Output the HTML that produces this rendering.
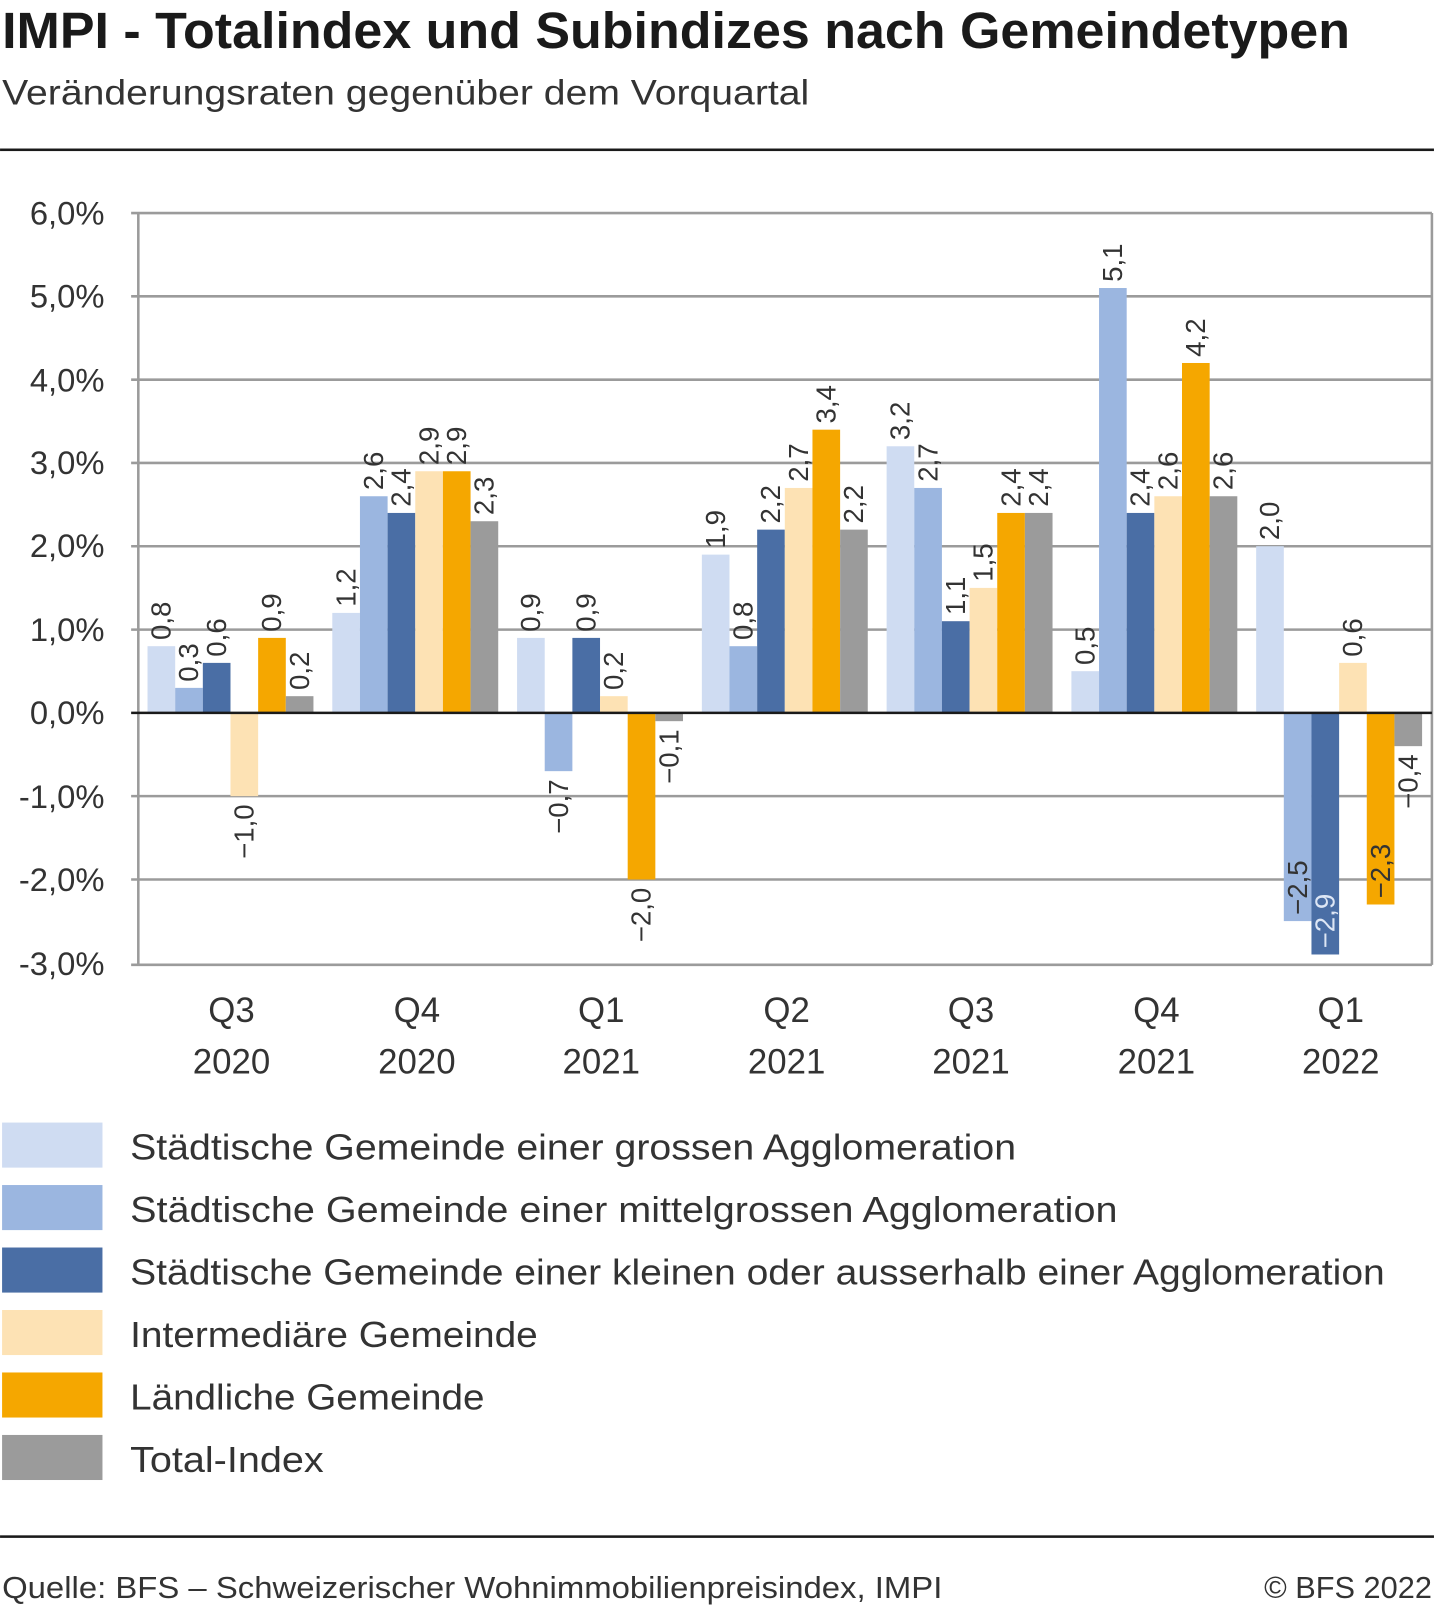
<!DOCTYPE html>
<html><head><meta charset="utf-8"><style>html,body{margin:0;padding:0;background:#fff}svg{display:block}</style></head>
<body>
<svg width="1434" height="1606" viewBox="0 0 1400 1568" xmlns="http://www.w3.org/2000/svg" font-family="Liberation Sans, sans-serif">
<rect width="1400" height="1568" fill="#fff"/>
<text x="2" y="47" font-size="50" font-weight="bold" fill="#1a1a1a" textLength="1316" lengthAdjust="spacingAndGlyphs">IMPI - Totalindex und Subindizes nach Gemeindetypen</text>
<text x="2" y="102" font-size="34" fill="#333" textLength="788" lengthAdjust="spacingAndGlyphs">Veränderungsraten gegenüber dem Vorquartal</text>
<rect x="0" y="145" width="1400" height="2.5" fill="#1a1a1a"/>
<g stroke="#9b9b9b" stroke-width="2.5">
<line x1="128" y1="208" x2="1398" y2="208"/><line x1="128" y1="289.3" x2="1398" y2="289.3"/>
<line x1="128" y1="370.7" x2="1398" y2="370.7"/><line x1="128" y1="452" x2="1398" y2="452"/>
<line x1="128" y1="533.3" x2="1398" y2="533.3"/><line x1="128" y1="614.7" x2="1398" y2="614.7"/>
<line x1="128" y1="777.3" x2="1398" y2="777.3"/><line x1="128" y1="858.7" x2="1398" y2="858.7"/>
<line x1="128" y1="942" x2="1398" y2="942"/>
<line x1="135" y1="208" x2="135" y2="942"/><line x1="1398" y1="208" x2="1398" y2="942"/>
</g>
<g font-size="32" fill="#333" text-anchor="end">
<text x="102" y="219">6,0%</text><text x="102" y="300">5,0%</text><text x="102" y="382">4,0%</text>
<text x="102" y="463">3,0%</text><text x="102" y="544">2,0%</text><text x="102" y="626">1,0%</text>
<text x="102" y="707">0,0%</text><text x="102" y="789">-1,0%</text><text x="102" y="870">-2,0%</text>
<text x="102" y="952">-3,0%</text>
</g>
<g>
<rect x="144" y="630.9" width="27" height="65.1" fill="#cfdcf2"/>
<rect x="171" y="671.6" width="27" height="24.4" fill="#9bb6e0"/>
<rect x="198" y="647.2" width="27" height="48.8" fill="#4a6ea5"/>
<rect x="225" y="696" width="27" height="81.3" fill="#fde2b4"/>
<rect x="252" y="622.8" width="27" height="73.2" fill="#f5a700"/>
<rect x="279" y="679.7" width="27" height="16.3" fill="#9b9b9b"/>

<rect x="324.4" y="598.4" width="27" height="97.6" fill="#cfdcf2"/>
<rect x="351.4" y="484.5" width="27" height="211.5" fill="#9bb6e0"/>
<rect x="378.4" y="500.8" width="27" height="195.2" fill="#4a6ea5"/>
<rect x="405.4" y="460.1" width="27" height="235.9" fill="#fde2b4"/>
<rect x="432.4" y="460.1" width="27" height="235.9" fill="#f5a700"/>
<rect x="459.4" y="508.9" width="27" height="187.1" fill="#9b9b9b"/>

<rect x="504.8" y="622.8" width="27" height="73.2" fill="#cfdcf2"/>
<rect x="531.8" y="696" width="27" height="56.9" fill="#9bb6e0"/>
<rect x="558.8" y="622.8" width="27" height="73.2" fill="#4a6ea5"/>
<rect x="585.8" y="679.7" width="27" height="16.3" fill="#fde2b4"/>
<rect x="612.8" y="696" width="27" height="162.7" fill="#f5a700"/>
<rect x="639.8" y="696" width="27" height="8.1" fill="#9b9b9b"/>

<rect x="685.2" y="541.5" width="27" height="154.5" fill="#cfdcf2"/>
<rect x="712.2" y="630.9" width="27" height="65.1" fill="#9bb6e0"/>
<rect x="739.2" y="517.1" width="27" height="178.9" fill="#4a6ea5"/>
<rect x="766.2" y="476.4" width="27" height="219.6" fill="#fde2b4"/>
<rect x="793.2" y="419.5" width="27" height="276.5" fill="#f5a700"/>
<rect x="820.2" y="517.1" width="27" height="178.9" fill="#9b9b9b"/>

<rect x="865.6" y="435.7" width="27" height="260.3" fill="#cfdcf2"/>
<rect x="892.6" y="476.4" width="27" height="219.6" fill="#9bb6e0"/>
<rect x="919.6" y="606.5" width="27" height="89.5" fill="#4a6ea5"/>
<rect x="946.6" y="574" width="27" height="122" fill="#fde2b4"/>
<rect x="973.6" y="500.8" width="27" height="195.2" fill="#f5a700"/>
<rect x="1000.6" y="500.8" width="27" height="195.2" fill="#9b9b9b"/>

<rect x="1046" y="655.3" width="27" height="40.7" fill="#cfdcf2"/>
<rect x="1073" y="281.2" width="27" height="414.8" fill="#9bb6e0"/>
<rect x="1100" y="500.8" width="27" height="195.2" fill="#4a6ea5"/>
<rect x="1127" y="484.5" width="27" height="211.5" fill="#fde2b4"/>
<rect x="1154" y="354.4" width="27" height="341.6" fill="#f5a700"/>
<rect x="1181" y="484.5" width="27" height="211.5" fill="#9b9b9b"/>

<rect x="1226.4" y="533.3" width="27" height="162.7" fill="#cfdcf2"/>
<rect x="1253.4" y="696" width="27" height="203.3" fill="#9bb6e0"/>
<rect x="1280.4" y="696" width="27" height="235.9" fill="#4a6ea5"/>
<rect x="1307.4" y="647.2" width="27" height="48.8" fill="#fde2b4"/>
<rect x="1334.4" y="696" width="27" height="187.1" fill="#f5a700"/>
<rect x="1361.4" y="696" width="27" height="32.5" fill="#9b9b9b"/>
</g>
<line x1="128" y1="696" x2="1398" y2="696" stroke="#1a1a1a" stroke-width="2.5"/>
<g font-size="27" fill="#333">
<text transform="translate(166.5,624.9) rotate(-90)">0,8</text>
<text transform="translate(193.5,665.6) rotate(-90)">0,3</text>
<text transform="translate(220.5,641.2) rotate(-90)">0,6</text>
<text transform="translate(247.5,785.3) rotate(-90)" text-anchor="end">−1,0</text>
<text transform="translate(274.5,616.8) rotate(-90)">0,9</text>
<text transform="translate(301.5,673.7) rotate(-90)">0,2</text>

<text transform="translate(346.9,592.4) rotate(-90)">1,2</text>
<text transform="translate(373.9,478.5) rotate(-90)">2,6</text>
<text transform="translate(400.9,494.8) rotate(-90)">2,4</text>
<text transform="translate(427.9,454.1) rotate(-90)">2,9</text>
<text transform="translate(454.9,454.1) rotate(-90)">2,9</text>
<text transform="translate(481.9,502.9) rotate(-90)">2,3</text>

<text transform="translate(527.3,616.8) rotate(-90)">0,9</text>
<text transform="translate(554.3,760.9) rotate(-90)" text-anchor="end">−0,7</text>
<text transform="translate(581.3,616.8) rotate(-90)">0,9</text>
<text transform="translate(608.3,673.7) rotate(-90)">0,2</text>
<text transform="translate(635.3,866.7) rotate(-90)" text-anchor="end">−2,0</text>
<text transform="translate(662.3,712.1) rotate(-90)" text-anchor="end">−0,1</text>

<text transform="translate(707.7,535.5) rotate(-90)">1,9</text>
<text transform="translate(734.7,624.9) rotate(-90)">0,8</text>
<text transform="translate(761.7,511.1) rotate(-90)">2,2</text>
<text transform="translate(788.7,470.4) rotate(-90)">2,7</text>
<text transform="translate(815.7,413.5) rotate(-90)">3,4</text>
<text transform="translate(842.7,511.1) rotate(-90)">2,2</text>

<text transform="translate(888.1,429.7) rotate(-90)">3,2</text>
<text transform="translate(915.1,470.4) rotate(-90)">2,7</text>
<text transform="translate(942.1,600.5) rotate(-90)">1,1</text>
<text transform="translate(969.1,568) rotate(-90)">1,5</text>
<text transform="translate(996.1,494.8) rotate(-90)">2,4</text>
<text transform="translate(1023.1,494.8) rotate(-90)">2,4</text>

<text transform="translate(1068.5,649.3) rotate(-90)">0,5</text>
<text transform="translate(1095.5,275.2) rotate(-90)">5,1</text>
<text transform="translate(1122.5,494.8) rotate(-90)">2,4</text>
<text transform="translate(1149.5,478.5) rotate(-90)">2,6</text>
<text transform="translate(1176.5,348.4) rotate(-90)">4,2</text>
<text transform="translate(1203.5,478.5) rotate(-90)">2,6</text>

<text transform="translate(1248.9,527.3) rotate(-90)">2,0</text>
<text transform="translate(1275.9,893.3) rotate(-90)">−2,5</text>
<text transform="translate(1302.9,925.9) rotate(-90)" fill="#dde6f5">−2,9</text>
<text transform="translate(1329.9,641.2) rotate(-90)">0,6</text>
<text transform="translate(1356.9,877.1) rotate(-90)">−2,3</text>
<text transform="translate(1383.9,736.5) rotate(-90)" text-anchor="end">−0,4</text>
</g>
<g font-size="34" fill="#333" text-anchor="middle">
<text x="226" y="998">Q3</text><text x="226" y="1048">2020</text>
<text x="407" y="998">Q4</text><text x="407" y="1048">2020</text>
<text x="587" y="998">Q1</text><text x="587" y="1048">2021</text>
<text x="768" y="998">Q2</text><text x="768" y="1048">2021</text>
<text x="948" y="998">Q3</text><text x="948" y="1048">2021</text>
<text x="1129" y="998">Q4</text><text x="1129" y="1048">2021</text>
<text x="1309" y="998">Q1</text><text x="1309" y="1048">2022</text>
</g>
<g font-size="35" fill="#333">
<rect x="2" y="1096" width="98" height="44" fill="#cfdcf2"/><text x="127" y="1132" textLength="865" lengthAdjust="spacingAndGlyphs">Städtische Gemeinde einer grossen Agglomeration</text>
<rect x="2" y="1157" width="98" height="44" fill="#9bb6e0"/><text x="127" y="1193" textLength="964" lengthAdjust="spacingAndGlyphs">Städtische Gemeinde einer mittelgrossen Agglomeration</text>
<rect x="2" y="1218" width="98" height="44" fill="#4a6ea5"/><text x="127" y="1254" textLength="1225" lengthAdjust="spacingAndGlyphs">Städtische Gemeinde einer kleinen oder ausserhalb einer Agglomeration</text>
<rect x="2" y="1279" width="98" height="44" fill="#fde2b4"/><text x="127" y="1315" textLength="398" lengthAdjust="spacingAndGlyphs">Intermediäre Gemeinde</text>
<rect x="2" y="1340" width="98" height="44" fill="#f5a700"/><text x="127" y="1376" textLength="346" lengthAdjust="spacingAndGlyphs">Ländliche Gemeinde</text>
<rect x="2" y="1401" width="98" height="44" fill="#9b9b9b"/><text x="127" y="1437" textLength="189" lengthAdjust="spacingAndGlyphs">Total-Index</text>
</g>
<rect x="0" y="1499" width="1400" height="2.5" fill="#1a1a1a"/>
<text x="2" y="1560" font-size="30" fill="#333" textLength="918" lengthAdjust="spacingAndGlyphs">Quelle: BFS – Schweizerischer Wohnimmobilienpreisindex, IMPI</text>
<text x="1398" y="1560" font-size="30" fill="#333" text-anchor="end">© BFS 2022</text>
</svg>
</body></html>
